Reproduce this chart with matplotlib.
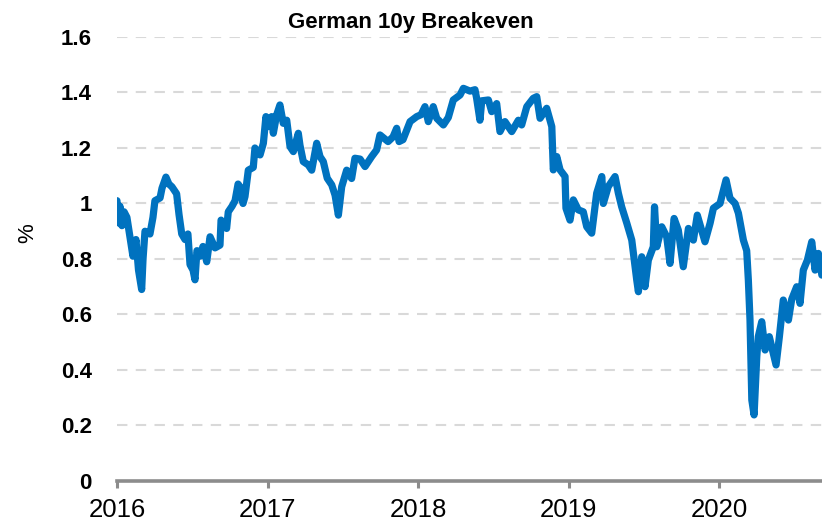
import numpy as np
import matplotlib
matplotlib.use("Agg")
import matplotlib.pyplot as plt

plt.rcParams['font.family'] = ['Liberation Sans', 'DejaVu Sans']

title = "German 10y Breakeven"
y_label = "%"
year_ticks = [2016, 2017, 2018, 2019, 2020]
y_ticks = [0, 0.2, 0.4, 0.6, 0.8, 1.0, 1.2, 1.4, 1.6]
y_tick_labels = ["0", "0.2", "0.4", "0.6", "0.8", "1", "1.2", "1.4", "1.6"]

# time in years since 1 Jan 2016
t_offset = [
    0.000, 0.010, 0.020, 0.033, 0.047, 0.066, 0.086, 0.106, 0.126, 0.143,
    0.164, 0.173, 0.186, 0.219, 0.239, 0.252, 0.286, 0.299, 0.325, 0.345,
    0.365, 0.396, 0.412, 0.430, 0.452, 0.471, 0.485, 0.505, 0.518, 0.531,
    0.551, 0.571, 0.596, 0.618, 0.651, 0.684, 0.691, 0.728, 0.739, 0.764,
    0.784, 0.804, 0.817, 0.837, 0.850, 0.872, 0.905, 0.916, 0.950, 0.972,
    0.989, 1.005, 1.027, 1.038, 1.060, 1.082, 1.104, 1.127, 1.149, 1.171,
    1.204, 1.215, 1.237, 1.270, 1.293, 1.326, 1.348, 1.370, 1.396, 1.426,
    1.448, 1.470, 1.492, 1.525, 1.558, 1.580, 1.614, 1.647, 1.691, 1.724,
    1.746, 1.800, 1.833, 1.857, 1.873, 1.899, 1.946, 1.990, 2.019, 2.045,
    2.067, 2.100, 2.123, 2.167, 2.200, 2.233, 2.278, 2.300, 2.344, 2.377,
    2.388, 2.410, 2.422, 2.466, 2.488, 2.521, 2.543, 2.576, 2.621, 2.665,
    2.687, 2.721, 2.764, 2.787, 2.809, 2.853, 2.887, 2.897, 2.920, 2.942,
    2.975, 2.981, 3.008, 3.030, 3.063, 3.096, 3.119, 3.152, 3.185, 3.219,
    3.229, 3.262, 3.307, 3.329, 3.351, 3.385, 3.418, 3.451, 3.462, 3.484,
    3.506, 3.528, 3.561, 3.569, 3.584, 3.617, 3.650, 3.672, 3.699, 3.727,
    3.760, 3.794, 3.827, 3.853, 3.904, 3.938, 3.960, 4.004, 4.044, 4.070,
    4.104, 4.126, 4.159, 4.181, 4.192, 4.203, 4.215, 4.230, 4.248, 4.258,
    4.281, 4.303, 4.331, 4.376, 4.398, 4.424, 4.458, 4.480, 4.513, 4.535,
    4.557, 4.584, 4.613, 4.635, 4.657, 4.680, 4.695,
]
breakeven = [
    1.01, 0.93, 0.99, 0.92, 0.97, 0.95, 0.88, 0.81, 0.87, 0.76,
    0.69, 0.80, 0.90, 0.89, 0.95, 1.01, 1.02, 1.055, 1.095, 1.07,
    1.06, 1.035, 0.96, 0.89, 0.87, 0.89, 0.78, 0.76, 0.725, 0.83,
    0.81, 0.845, 0.79, 0.88, 0.84, 0.85, 0.94, 0.91, 0.97, 0.99,
    1.01, 1.07, 1.06, 1.00, 1.025, 1.12, 1.13, 1.20, 1.175, 1.217,
    1.313, 1.277, 1.313, 1.253, 1.319, 1.355, 1.289, 1.30, 1.205, 1.187,
    1.253, 1.21, 1.151, 1.139, 1.12, 1.217, 1.169, 1.151, 1.091, 1.067,
    1.03, 0.958, 1.06, 1.12, 1.09, 1.163, 1.16, 1.133, 1.169, 1.193,
    1.247, 1.223, 1.24, 1.271, 1.223, 1.23, 1.295, 1.313, 1.32, 1.349,
    1.295, 1.349, 1.307, 1.283, 1.31, 1.373, 1.391, 1.415, 1.405, 1.41,
    1.379, 1.30, 1.37, 1.373, 1.331, 1.36, 1.259, 1.295, 1.259, 1.30,
    1.283, 1.349, 1.379, 1.385, 1.307, 1.343, 1.277, 1.121, 1.169, 1.121,
    1.097, 0.983, 0.94, 1.013, 0.977, 0.97, 0.916, 0.893, 1.037, 1.097,
    1.0, 1.061, 1.097, 1.037, 0.988, 0.929, 0.868, 0.724, 0.682, 0.808,
    0.70, 0.796, 0.844, 0.988, 0.844, 0.916, 0.88, 0.784, 0.946, 0.904,
    0.772, 0.91, 0.868, 0.958, 0.862, 0.929, 0.983, 1.0, 1.085, 1.019,
    1.0, 0.965, 0.868, 0.83, 0.724, 0.58, 0.292, 0.238, 0.448, 0.52,
    0.574, 0.472, 0.52, 0.418, 0.52, 0.652, 0.58, 0.655, 0.70, 0.64,
    0.76, 0.796, 0.862, 0.76, 0.82, 0.742, 0.75,
]

years = 2016 + np.array(t_offset)

fig = plt.figure(figsize=(8.22, 5.26), dpi=100)
ax = fig.add_axes([0.1423, 0.0856, 0.8577, 0.8441])

ax.plot(years, breakeven, color='#0072BF', linewidth=5.2,
        solid_joinstyle='round', solid_capstyle='round', zorder=3)

ax.set_xlim(2016.0, 2020.681)
ax.set_ylim(0, 1.6)

ax.set_yticks(y_ticks)
ax.set_yticklabels(y_tick_labels, fontsize=16, fontweight='bold')
ax.set_xticks(year_ticks)
ax.set_xticklabels([str(y) for y in year_ticks], fontsize=18.5)

ax.yaxis.grid(True, linestyle=(0, (5, 4)), color='#D9D9D9', linewidth=1.5, zorder=0)
ax.set_axisbelow(True)

for s in ['left', 'right', 'top']:
    ax.spines[s].set_visible(False)
ax.spines['bottom'].set_color('#8C8C8C')
ax.spines['bottom'].set_linewidth(2.6)
ax.spines['bottom'].set_zorder(4)

ax.tick_params(axis='y', length=0, pad=18)
ax.tick_params(axis='x', direction='out', length=5, width=2.2, color='#8C8C8C', pad=7)

ax.set_ylabel(y_label, fontsize=16)
ax.yaxis.set_label_coords(-0.112, 0.5586)

fig.text(0.5, 1 - 28 / 526, title, fontsize=16, fontweight='bold',
         ha='center', va='baseline')

fig.savefig('out.png', dpi=100)
